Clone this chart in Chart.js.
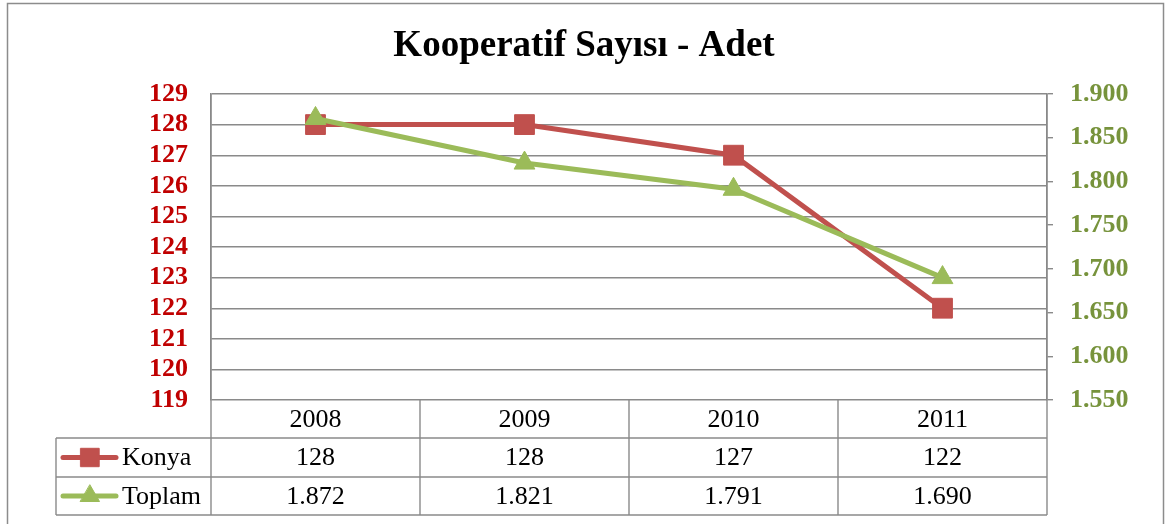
<!DOCTYPE html>
<html>
<head>
<meta charset="utf-8">
<script src="https://cdn.jsdelivr.net/npm/chart.js@4/dist/chart.umd.min.js"></script>
<style>
  html, body { margin: 0; padding: 0; background: #ffffff; }
  #c { display: block; }
</style>
</head>
<body>
<canvas id="c" width="1168" height="524"></canvas>
<script>
// ---- data ----
const chartTitle = 'Kooperatif Sayısı - Adet';
const categories = ['2008', '2009', '2010', '2011'];
const seriesNames = ['Konya', 'Toplam'];
const konyaValues = [128, 128, 127, 122];
const toplamValues = [1872, 1821, 1791, 1690];
const leftTicks = { min: 119, max: 129, step: 1 };
const rightTicks = { min: 1550, max: 1900, step: 50 };

// ---- styles ----
const SERIF = "'Liberation Serif', 'Times New Roman', serif";
const RED = '#C0504D';
const GREEN = '#9BBB59';
const GRID = '#8a8a8a';

function fmt(v) {
  return String(Math.round(v)).replace(/\B(?=(\d{3})+(?!\d))/g, '.');
}

const tablePlugin = {
  id: 'tablePlugin',
  beforeDraw(chart) {
    const ctx = chart.ctx;
    ctx.save();
    ctx.fillStyle = '#ffffff';
    ctx.fillRect(0, 0, chart.width, chart.height);
    ctx.strokeStyle = '#8c8c8c';
    ctx.lineWidth = 1.5;
    ctx.strokeRect(7.5, 3.5, 1156, 540);
    ctx.restore();
  },
  afterDraw(chart) {
    const ctx = chart.ctx;
    const x = chart.scales.x;
    const area = chart.chartArea;
    const catW = (area.right - area.left) / categories.length;
    const legendLeft = 56;
    const rowTop = [area.bottom, area.bottom + 38, area.bottom + 77];
    const tableBottom = area.bottom + 115;
    ctx.save();
    ctx.strokeStyle = GRID;
    ctx.lineWidth = 1.4;
    ctx.beginPath();
    [rowTop[1], rowTop[2], tableBottom].forEach(y => {
      ctx.moveTo(legendLeft, y); ctx.lineTo(area.right, y);
    });
    ctx.moveTo(legendLeft, rowTop[1]); ctx.lineTo(legendLeft, tableBottom);
    ctx.moveTo(area.left, area.top); ctx.lineTo(area.left, tableBottom);
    ctx.moveTo(area.right, area.top); ctx.lineTo(area.right, tableBottom);
    for (let i = 1; i < categories.length; i++) {
      const xx = x.getPixelForValue(i) - catW / 2;
      ctx.moveTo(xx, area.bottom); ctx.lineTo(xx, tableBottom);
    }
    ctx.stroke();

    ctx.fillStyle = '#000000';
    ctx.font = '26px ' + SERIF;
    ctx.textAlign = 'center';
    ctx.textBaseline = 'middle';
    const rows = [konyaValues, toplamValues];
    rows.forEach((vals, r) => {
      const cy = (rowTop[r + 1] + (r === 0 ? rowTop[2] : tableBottom)) / 2 + 1;
      vals.forEach((v, i) => {
        ctx.fillText(fmt(v), x.getPixelForValue(i), cy);
      });
    });

    const colors = [RED, GREEN];
    const styles = ['rect', 'triangle'];
    const radii = [13, 11];
    rows.forEach((vals, r) => {
      const cy = (rowTop[r + 1] + (r === 0 ? rowTop[2] : tableBottom)) / 2;
      ctx.strokeStyle = colors[r];
      ctx.lineWidth = 5;
      ctx.lineCap = 'round';
      ctx.beginPath();
      ctx.moveTo(63, cy); ctx.lineTo(116, cy);
      ctx.stroke();
      ctx.fillStyle = colors[r];
      ctx.lineWidth = 1;
      Chart.helpers.drawPoint(ctx, { pointStyle: styles[r], radius: radii[r], rotation: 0, borderWidth: 1 }, 90, cy);
      ctx.fillStyle = '#000000';
      ctx.textAlign = 'left';
      ctx.font = '26px ' + SERIF;
      ctx.fillText(seriesNames[r], 122, cy + 1);
    });
    ctx.restore();
  }
};

new Chart(document.getElementById('c'), {
  type: 'line',
  data: {
    labels: categories,
    datasets: [
      {
        label: seriesNames[0],
        data: konyaValues,
        yAxisID: 'y',
        borderColor: RED,
        backgroundColor: RED,
        borderWidth: 5,
        pointStyle: 'rect',
        pointRadius: 14,
        pointBorderWidth: 1,
        tension: 0,
        order: 1
      },
      {
        label: seriesNames[1],
        data: toplamValues,
        yAxisID: 'y1',
        borderColor: GREEN,
        backgroundColor: GREEN,
        borderWidth: 5,
        pointStyle: 'triangle',
        pointRadius: 12,
        pointBorderWidth: 1,
        tension: 0,
        order: 0
      }
    ]
  },
  options: {
    responsive: false,
    devicePixelRatio: 1,
    animation: false,
    layout: { padding: { left: 0, right: 0, top: 0, bottom: 0 } },
    plugins: {
      legend: { display: false },
      tooltip: { enabled: false },
      title: {
        display: true,
        text: chartTitle,
        color: '#000000',
        font: { family: SERIF, size: 37, weight: 'bold', lineHeight: 1.2 },
        padding: { top: 24, bottom: 25.6 }
      }
    },
    scales: {
      x: {
        type: 'category',
        offset: true,
        grid: { display: false, drawTicks: false },
        border: { display: false },
        ticks: { color: '#000000', font: { family: SERIF, size: 26 }, padding: 5, maxRotation: 0 },
        afterFit(scale) { scale.height = 124; }
      },
      y: {
        position: 'left',
        min: leftTicks.min,
        max: leftTicks.max,
        grid: { color: GRID, lineWidth: 1.4, drawTicks: false },
        border: { display: true, color: GRID, width: 1.4 },
        ticks: {
          stepSize: leftTicks.step,
          autoSkip: false,
          color: '#C00000',
          font: { family: SERIF, size: 26, weight: 'bold' },
          padding: 23
        },
        afterFit(scale) { scale.width = 211; }
      },
      y1: {
        position: 'right',
        min: rightTicks.min,
        max: rightTicks.max,
        grid: { color: GRID, lineWidth: 1.4, drawOnChartArea: false, drawTicks: true, tickLength: 6 },
        border: { display: true, color: GRID, width: 1.4 },
        ticks: {
          stepSize: rightTicks.step,
          autoSkip: false,
          color: '#77933C',
          font: { family: SERIF, size: 26, weight: 'bold' },
          padding: 17,
          callback: (v) => fmt(v)
        },
        afterFit(scale) { scale.width = 121; }
      }
    }
  },
  plugins: [tablePlugin]
});
</script>
</body>
</html>
